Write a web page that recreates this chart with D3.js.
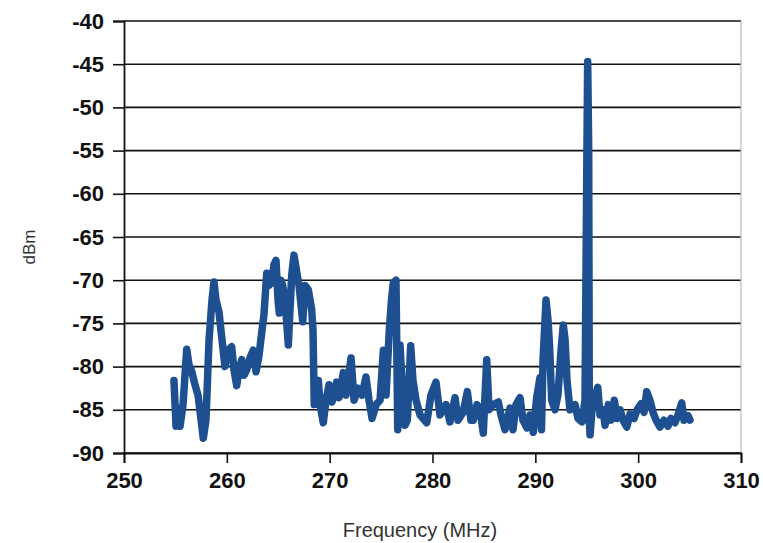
<!DOCTYPE html>
<html>
<head>
<meta charset="utf-8">
<script src="https://cdn.jsdelivr.net/npm/d3@7"></script>
<style>
  body { margin: 0; background: #fff; }
  text { font-family: "Liberation Sans", Arial, sans-serif; }
</style>
</head>
<body>
<div id="chart"></div>
<script>
// Spectrum trace
const freqMHz = [
  254.86, 255.06, 255.25, 255.45, 255.74, 256.1, 256.32, 256.6, 256.9, 257.2,
  257.5, 257.71, 257.97, 258.27, 258.56, 258.75, 258.95, 259.24, 259.53, 259.82,
  260.11, 260.47, 260.7, 260.96, 261.18, 261.45, 261.67, 261.93, 262.25, 262.57,
  262.84, 263.13, 263.39, 263.61, 263.88, 264.1, 264.36, 264.59, 264.78, 264.98,
  265.1, 265.27, 265.43, 265.66, 265.98, 266.14, 266.31, 266.53, 266.8, 267.02,
  267.38, 267.6, 267.92, 268.25, 268.38, 268.5, 268.67, 268.9, 269.06, 269.38,
  269.64, 269.94, 270.23, 270.68, 270.91, 271.33, 271.59, 272.08, 272.37, 272.76,
  273.14, 273.53, 273.83, 274.12, 274.51, 274.9, 275.22, 275.48, 275.8, 276.01,
  276.19, 276.45, 276.62, 276.84, 277.13, 277.33, 277.55, 277.88, 278.1, 278.4,
  278.79, 279.44, 279.85, 280.34, 280.73, 281.31, 281.7, 282.19, 282.48, 282.97,
  283.39, 283.74, 283.97, 284.33, 284.62, 284.94, 285.27, 285.5, 285.89, 286.4,
  286.66, 287.05, 287.54, 287.83, 288.12, 288.51, 288.8, 289.19, 289.48, 289.8,
  290.13, 290.45, 290.6, 290.75, 290.89, 291.04, 291.23, 291.38, 291.59, 291.91,
  292.2, 292.5, 292.72, 292.89, 293.08, 293.37, 293.86, 294.15, 294.54, 294.83,
  294.98, 295.09, 295.19, 295.25, 295.32, 295.51, 295.71, 296.07, 296.29, 296.58,
  296.78, 297.1, 297.36, 297.68, 297.94, 298.24, 298.53, 298.89, 299.21, 299.6,
  299.89, 300.28, 300.57, 300.83, 301.15, 301.44, 301.74, 302.12, 302.51, 302.9,
  303.19, 303.58, 303.87, 304.24, 304.46, 304.85, 305.04
];
const levelDbm = [
  -81.6, -86.9, -84.8, -86.9, -84.4, -78.0, -79.8, -80.6, -82.1, -83.3,
  -86.2, -88.3, -86.2, -76.9, -72.3, -70.2, -72.3, -73.7, -76.9, -80.0,
  -78.1, -77.7, -80.4, -82.2, -80.4, -79.2, -81.0, -80.4, -79.0, -78.1,
  -80.6, -78.7, -76.1, -74.0, -69.2, -70.6, -70.3, -68.2, -67.7, -72.3,
  -73.8, -70.0, -70.6, -72.3, -77.5, -73.4, -69.4, -67.1, -69.1, -70.6,
  -74.8, -70.6, -71.1, -73.4, -75.8, -84.4, -83.3, -81.6, -84.4, -86.5,
  -83.9, -82.1, -84.1, -81.8, -83.6, -80.7, -83.3, -79.0, -83.9, -82.5,
  -83.3, -81.2, -83.9, -86.0, -84.4, -83.9, -78.1, -83.3, -75.8, -72.3,
  -70.3, -70.0, -87.3, -77.5, -83.9, -86.8, -86.2, -77.6, -81.6, -83.9,
  -85.6, -86.5, -83.3, -81.8, -85.6, -84.4, -86.4, -83.6, -86.2, -85.3,
  -82.9, -86.2, -86.2, -84.4, -85.0, -87.7, -79.2, -85.0, -84.4, -84.1,
  -85.6, -87.3, -84.8, -87.3, -84.4, -83.6, -86.2, -87.1, -85.6, -87.6,
  -83.6, -81.3, -87.3, -79.2, -75.8, -72.3, -74.6, -77.5, -83.9, -85.0,
  -83.3, -78.1, -75.2, -76.9, -81.6, -85.0, -84.4, -86.0, -86.4, -83.9,
  -60.7, -44.7, -54.9, -86.2, -87.9, -85.0, -83.9, -82.4, -85.6, -85.0,
  -86.8, -84.4, -86.2, -83.9, -86.0, -85.0, -86.2, -87.0, -85.5, -86.0,
  -85.0, -84.3, -85.3, -82.9, -83.9, -85.3, -86.2, -87.0, -86.2, -86.9,
  -86.0, -86.5, -85.6, -84.2, -86.2, -85.7, -86.2
];
const xTicks = [250, 260, 270, 280, 290, 300, 310];
const yTicks = [-90, -85, -80, -75, -70, -65, -60, -55, -50, -45, -40];

function drawChart() {
    const W = 763, H = 543;
    const margin = {l: 124, r: 22, t: 21, b: 90};
    const width = W - margin.l - margin.r;
    const height = H - margin.t - margin.b;

    let outerSvg = d3.select("#chart").append("svg")
        .attr("width", W)
        .attr("height", H);
    outerSvg.append("rect").attr("width", W).attr("height", H).attr("fill", "#fff");

    let svg = outerSvg.append("g")
        .attr("transform", `translate(${margin.l},${margin.t})`);

    let scaleX = d3.scaleLinear().domain([250, 310]).range([0, width]);
    let scaleY = d3.scaleLinear().domain([-90, -40]).range([height, 0]);

    //gridlines
    svg.append("g").selectAll("line")
        .data(yTicks)
        .enter().append("line")
        .attr("x1", 0).attr("x2", width)
        .attr("y1", d => scaleY(d)).attr("y2", d => scaleY(d))
        .attr("stroke", "#111").attr("stroke-width", 1.6);

    //right border of plot area
    svg.append("line")
        .attr("x1", width).attr("x2", width)
        .attr("y1", 0).attr("y2", height)
        .attr("stroke", "#bbb").attr("stroke-width", 1.2);

    //axes - plain hyphen for negatives, like the original
    let plain = d => String(d);
    let axisY = d3.axisLeft(scaleY).tickValues(yTicks).tickFormat(plain).tickSize(11).tickPadding(9);
    let axisX = d3.axisBottom(scaleX).tickValues(xTicks).tickFormat(plain).tickSize(10).tickPadding(9);

    let gy = svg.append("g").call(axisY);
    let gx = svg.append("g").attr("transform", `translate(0,${height})`).call(axisX);
    [gx, gy].forEach(g => {
        g.select(".domain").attr("stroke", "#111").attr("stroke-width", 1.8);
        g.selectAll(".tick line").attr("stroke", "#111").attr("stroke-width", 1.6);
        g.selectAll("text")
            .attr("fill", "#111")
            .style("font-size", "22px")
            .style("font-weight", "bold")
            .style("font-family", '"Liberation Sans", Arial, sans-serif');
    });

    //trace
    let data = freqMHz.map((f, i) => ({f: f, v: levelDbm[i]}));
    let line = d3.line().x(d => scaleX(d.f)).y(d => scaleY(d.v));
    svg.append("path")
        .datum(data)
        .attr("d", line)
        .attr("fill", "none")
        .attr("stroke", "#1d4f91")
        .attr("stroke-width", 7.5)
        .attr("stroke-linejoin", "round")
        .attr("stroke-linecap", "round");

    //axis titles
    outerSvg.append("text")
        .attr("x", 420).attr("y", 537)
        .attr("text-anchor", "middle")
        .attr("fill", "#333")
        .style("font-size", "20px")
        .text("Frequency (MHz)");

    outerSvg.append("text")
        .attr("transform", "translate(35,247) rotate(-90)")
        .attr("text-anchor", "middle")
        .attr("fill", "#333")
        .style("font-size", "17px")
        .text("dBm");
}

drawChart();
</script>
</body>
</html>
